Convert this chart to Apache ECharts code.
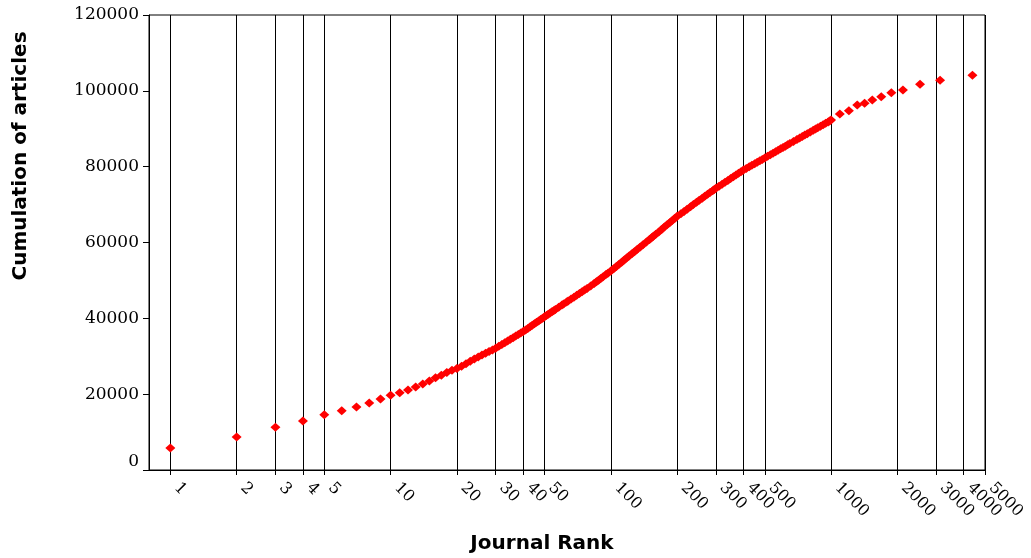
<!DOCTYPE html>
<html>
<head>
<meta charset="utf-8">
<script src="https://cdn.jsdelivr.net/npm/echarts@6/dist/echarts.min.js"></script>
<style>
  html, body { margin: 0; padding: 0; background: #fff; }
  #chart { width: 1031px; height: 558px; }
</style>
</head>
<body>
<div id="chart"></div>
<script>
// journal rank (x) and cumulative number of articles (y)
const ranks = [
  1, 2, 3, 4, 5, 6, 7, 8, 9, 10, 11, 12, 13, 14, 15, 16, 17, 18, 19, 20,
  21, 22, 23, 24, 25, 26, 27, 28, 29, 30, 31, 32, 33, 34, 35, 36, 37, 38, 39, 40,
  41, 42, 43, 44, 45, 46, 47, 48, 49, 50, 51, 52, 53, 54, 55, 56, 58, 60, 61, 63,
  64, 66, 68, 70, 72, 74, 76, 78, 81, 84, 86, 88, 90, 92, 95, 97, 100,
  103, 106, 109, 112, 115, 118, 121, 125, 128, 132, 136, 140, 145, 150,
  153, 156, 160, 165, 170, 175, 180, 185, 190, 195, 200,
  208, 215, 222, 230, 237, 245, 252, 260, 267, 275, 282, 290, 295, 300,
  310, 320, 330, 340, 350, 360, 370, 380, 390, 400,
  412, 425, 437, 450, 462, 475, 487, 500, 515, 530, 545, 560, 575, 590, 605, 620, 635, 650,
  675, 700, 720, 740, 760, 780, 805, 830, 850, 870, 895, 920, 945, 970, 985, 1000,
  1096, 1205, 1315, 1420, 1539, 1690, 1878, 2120, 2535, 3126, 4385
]
const articles = [
  5800, 8700, 11300, 12900, 14600, 15600, 16600, 17700, 18700, 19700, 20400, 21100, 21900, 22700, 23500, 24300, 25000, 25700, 26300, 26800,
  27390, 28050, 28700, 29300, 29820, 30310, 30770, 31230, 31660, 32100, 32610, 33090, 33560, 34010, 34460, 34890, 35310, 35730, 36120, 36500,
  36930, 37350, 37760, 38150, 38560, 38960, 39310, 39680, 40040, 40400, 40740, 41070, 41380, 41710, 42020, 42320, 42920, 43490, 43770, 44300,
  44570, 45110, 45580, 46070, 46540, 47000, 47440, 47880, 48500, 49190, 49630, 50070, 50500, 50910, 51540, 51910, 52500,
  53100, 53680, 54270, 54810, 55370, 55900, 56410, 57080, 57560, 58210, 58800, 59390, 60120, 60800,
  61220, 61630, 62170, 62800, 63450, 64070, 64670, 65240, 65810, 66360, 66900,
  67610, 68200, 68800, 69460, 69990, 70600, 71110, 71690, 72170, 72700, 73160, 73670, 73990, 74300,
  74850, 75380, 75890, 76380, 76870, 77340, 77800, 78260, 78680, 79100,
  79520, 79960, 80370, 80790, 81170, 81580, 81920, 82300, 82730, 83140, 83550, 83940, 84320, 84710, 85060, 85410, 85760, 86100,
  86640, 87160, 87560, 87950, 88340, 88710, 89160, 89600, 89940, 90270, 90690, 91040, 91470, 91780, 92070, 92300,
  93890, 94770, 96260, 96700, 97580, 98460, 99510, 100220, 101720, 102770, 104100
]
const rankTicks = [1, 2, 3, 4, 5, 10, 20, 30, 40, 50, 100, 200, 300, 400, 500, 1000, 2000, 3000, 4000, 5000]
// 4000 gets its label from a helper axis, so the overlap check next to 5000 does not drop it
const mainLabels = rankTicks.filter(v => v !== 4000)
const extraLabels = [4000]

const chart = echarts.init(document.getElementById('chart'))

const serif = 'DejaVu Serif'
const bold = 'DejaVu Sans'

const rankLabel = {
  showMinLabel: true,
  showMaxLabel: true,
  hideOverlap: false,
  rotate: -45,
  margin: 9,
  padding: [0, 0, 0, 9],
  color: '#000',
  fontFamily: serif,
  fontSize: 16,
  formatter: (v) => String(v)
}

chart.setOption({
  animation: false,
  backgroundColor: '#fff',
  grid: {
    left: 149,
    top: 15,
    right: 46,
    bottom: 88,
    show: true,
    borderColor: '#000',
    borderWidth: 1
  },
  xAxis: [
    {
      type: 'log',
      logBase: 10,
      min: 0.8,
      max: 5000,
      position: 'bottom',
      axisLine: { show: true, lineStyle: { color: '#000', width: 1 } },
      axisTick: {
        show: true,
        length: 5,
        customValues: rankTicks,
        lineStyle: { color: '#000' }
      },
      axisLabel: Object.assign({ customValues: mainLabels }, rankLabel),
      splitLine: { show: true, lineStyle: { color: '#000', width: 1 } },
      minorTick: { show: false },
      minorSplitLine: { show: false }
    },
    {
      type: 'log',
      logBase: 10,
      min: 0.8,
      max: 5000,
      position: 'bottom',
      axisLine: { show: false },
      axisTick: { show: false },
      splitLine: { show: false },
      axisLabel: Object.assign({ customValues: extraLabels }, rankLabel)
    }
  ],
  yAxis: {
    type: 'value',
    min: 0,
    max: 120000,
    interval: 20000,
    axisLine: { show: true, lineStyle: { color: '#000', width: 1 } },
    axisTick: { show: true, length: 6, lineStyle: { color: '#000' } },
    splitLine: { show: false },
    axisLabel: {
      margin: 10,
      color: '#000',
      fontFamily: serif,
      fontSize: 17,
      formatter: (v) => (v === 0 ? '{zero|0}' : String(v)),
      rich: {
        zero: { fontFamily: serif, fontSize: 17, color: '#000', padding: [0, 0, 16, 0] }
      }
    }
  },
  graphic: [
    {
      type: 'text',
      x: 21,
      y: 156,
      rotation: Math.PI / 2,
      style: {
        text: 'Cumulation of articles',
        fontFamily: bold,
        fontWeight: 'bold',
        fontSize: 20,
        fill: '#000',
        textAlign: 'center',
        textVerticalAlign: 'middle'
      }
    },
    {
      type: 'text',
      x: 542,
      y: 544,
      style: {
        text: 'Journal Rank',
        fontFamily: bold,
        fontWeight: 'bold',
        fontSize: 20,
        fill: '#000',
        textAlign: 'center',
        textVerticalAlign: 'middle'
      }
    }
  ],
  series: [
    {
      type: 'scatter',
      xAxisIndex: 0,
      symbol: 'diamond',
      symbolSize: [10, 9],
      itemStyle: { color: '#ff0000', opacity: 1 },
      data: ranks.map((r, i) => [r, articles[i]])
    }
  ]
})
</script>
</body>
</html>
